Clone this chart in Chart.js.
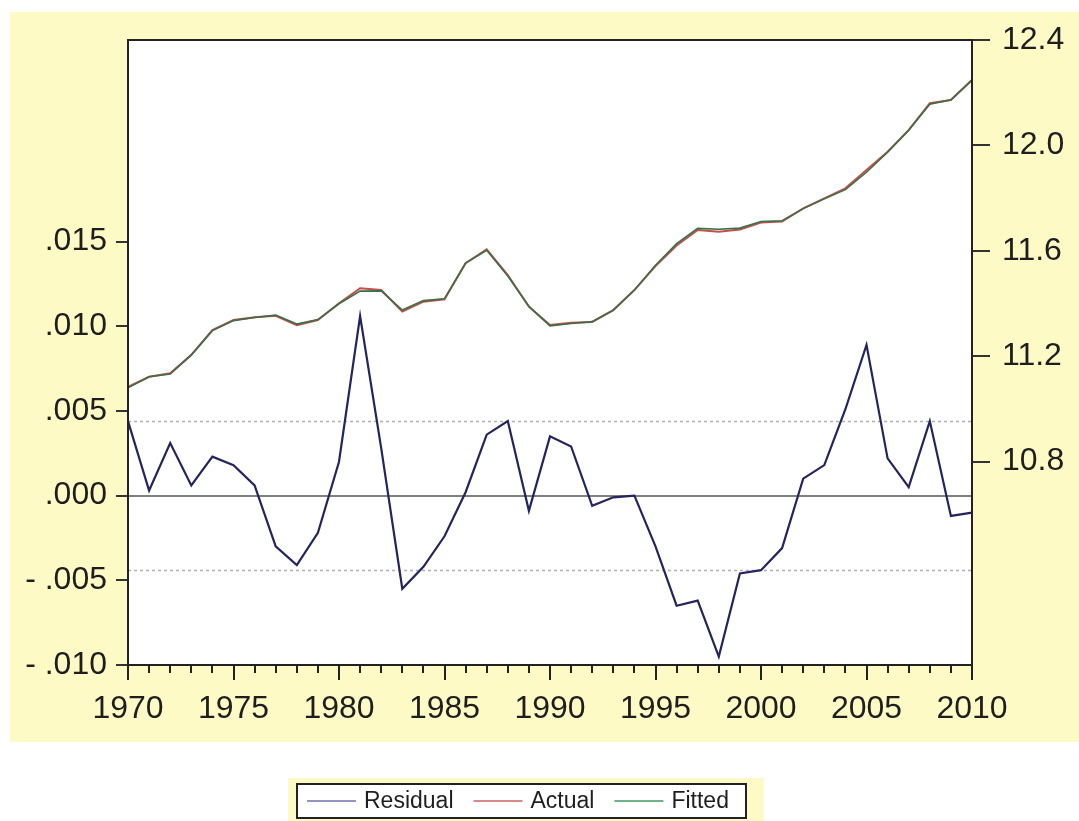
<!DOCTYPE html>
<html>
<head>
<meta charset="utf-8">
<script src="https://cdn.jsdelivr.net/npm/chart.js@4.4.1/dist/chart.umd.min.js"></script>
<style>
  html, body { margin: 0; padding: 0; background: #ffffff; }
  #wrap { width: 1079px; height: 821px; }
</style>
</head>
<body>
<div id="wrap"><canvas id="c" width="1079" height="821"></canvas></div>
<script>
const years = [1970,1971,1972,1973,1974,1975,1976,1977,1978,1979,
               1980,1981,1982,1983,1984,1985,1986,1987,1988,1989,
               1990,1991,1992,1993,1994,1995,1996,1997,1998,1999,
               2000,2001,2002,2003,2004,2005,2006,2007,2008,2009,2010];

const residual = [0.0044, 0.0003, 0.0031, 0.0006, 0.0023, 0.0018, 0.0006, -0.0030, -0.0041, -0.0022,
                  0.0020, 0.0106, 0.0028, -0.0055, -0.0042, -0.0024, 0.0002, 0.0036, 0.0044, -0.0009,
                  0.0035, 0.0029, -0.0006, -0.0001, 0.0000, -0.0030, -0.0065, -0.0062, -0.0095, -0.0046,
                  -0.0044, -0.0031, 0.0010, 0.0018, 0.0051, 0.0089, 0.0022, 0.0005, 0.0044, -0.0012, -0.0010];

const actual = [11.084, 11.122, 11.135, 11.205, 11.299, 11.337, 11.348, 11.353, 11.318, 11.337,
                11.401, 11.458, 11.451, 11.369, 11.407, 11.416, 11.553, 11.606, 11.508, 11.388,
                11.318, 11.327, 11.330, 11.375, 11.451, 11.542, 11.620, 11.679, 11.672, 11.681,
                11.707, 11.711, 11.761, 11.799, 11.837, 11.907, 11.976, 12.058, 12.160, 12.172, 12.248];

const fitted = [11.080, 11.122, 11.132, 11.204, 11.297, 11.335, 11.347, 11.356, 11.322, 11.339,
                11.399, 11.447, 11.448, 11.375, 11.411, 11.418, 11.553, 11.602, 11.504, 11.389,
                11.315, 11.324, 11.331, 11.375, 11.451, 11.545, 11.627, 11.685, 11.682, 11.686,
                11.711, 11.714, 11.760, 11.797, 11.832, 11.898, 11.974, 12.058, 12.156, 12.173, 12.249];

const xTickYears = [1970, 1975, 1980, 1985, 1990, 1995, 2000, 2005, 2010];
const leftTicks = [-0.010, -0.005, 0.000, 0.005, 0.010, 0.015];
const rightTicks = [10.8, 11.2, 11.6, 12.0, 12.4];
const seBands = [0.00441, -0.00441];   // ±1 S.E. dotted lines
const seriesNames = ['Residual', 'Actual', 'Fitted'];

const toPts = (arr) => years.map((yr, i) => ({ x: yr, y: arr[i] }));
const TXT = '#1e1e1e';
const tickFont = { family: 'Liberation Sans, Arial, sans-serif', size: 32 };

const framePlugin = {
  id: 'frame',
  beforeDraw(chart) {
    const ctx = chart.ctx, a = chart.chartArea;
    ctx.save();
    ctx.fillStyle = '#fdfac6';
    ctx.fillRect(10, 12, 1069, 730);
    ctx.fillStyle = '#ffffff';
    ctx.fillRect(a.left, a.top, a.right - a.left, a.bottom - a.top);
    ctx.restore();
  },
  beforeDatasetsDraw(chart) {
    const ctx = chart.ctx, a = chart.chartArea, ys = chart.scales.y;
    ctx.save();
    ctx.strokeStyle = '#b0b0b0';
    ctx.lineWidth = 1.5;
    ctx.setLineDash([3, 3]);
    seBands.forEach(v => {
      const py = Math.round(ys.getPixelForValue(v)) + 0.5;
      ctx.beginPath(); ctx.moveTo(a.left, py); ctx.lineTo(a.right, py); ctx.stroke();
    });
    ctx.setLineDash([]);
    ctx.strokeStyle = '#808080';
    ctx.lineWidth = 2;
    const z = Math.round(ys.getPixelForValue(0));
    ctx.beginPath(); ctx.moveTo(a.left, z); ctx.lineTo(a.right, z); ctx.stroke();
    ctx.restore();
  },
  afterDatasetsDraw(chart) {
    const ctx = chart.ctx, a = chart.chartArea, xs = chart.scales.x;
    ctx.save();
    ctx.strokeStyle = '#222222';
    ctx.lineWidth = 2;
    ctx.strokeRect(a.left, a.top, a.right - a.left, a.bottom - a.top);
    // x-axis tick marks (major every 5 years, minor every year)
    ctx.lineWidth = 2;
    years.forEach(yr => {
      const px = Math.round(xs.getPixelForValue(yr));
      const len = (yr % 5 === 0) ? 15 : 8;
      ctx.beginPath(); ctx.moveTo(px, a.bottom); ctx.lineTo(px, a.bottom + len); ctx.stroke();
    });
    ctx.restore();
  },
  afterDraw(chart) {
    const ctx = chart.ctx;
    ctx.save();
    ctx.fillStyle = '#fdfac6';
    ctx.fillRect(288, 778, 476, 43);
    ctx.fillStyle = '#ffffff';
    ctx.fillRect(297, 784, 449, 34);
    ctx.strokeStyle = '#222222';
    ctx.lineWidth = 2;
    ctx.strokeRect(297, 784, 449, 34);
    ctx.font = '23px Liberation Sans, Arial, sans-serif';
    ctx.textBaseline = 'middle';
    ctx.fillStyle = TXT;
    const legendColors = ['#7070b0', '#d06060', '#3f9a5f'];
    let x = 307;
    const cy = 801;
    seriesNames.forEach((name, i) => {
      ctx.strokeStyle = legendColors[i];
      ctx.lineWidth = 1.5;
      ctx.beginPath(); ctx.moveTo(x, cy); ctx.lineTo(x + 49, cy); ctx.stroke();
      x += 57;
      ctx.fillText(name, x, cy + 1);
      x += ctx.measureText(name).width + 20;
    });
    ctx.restore();
  }
};

new Chart(document.getElementById('c'), {
  type: 'line',
  data: {
    datasets: [
      { label: seriesNames[0], data: toPts(residual), yAxisID: 'y', borderColor: '#24245e', borderWidth: 2.2, pointRadius: 0, tension: 0, order: 0 },
      { label: seriesNames[1], data: toPts(actual), yAxisID: 'y2', borderColor: '#c0504a', borderWidth: 2, pointRadius: 0, tension: 0, order: 2 },
      { label: seriesNames[2], data: toPts(fitted), yAxisID: 'y2', borderColor: '#3c6e48', borderWidth: 1.6, pointRadius: 0, tension: 0, order: 1 }
    ]
  },
  options: {
    responsive: false,
    animation: false,
    layout: { padding: { top: 40, left: 0, right: 0, bottom: 0 } },
    plugins: { legend: { display: false }, tooltip: { enabled: false } },
    scales: {
      x: {
        type: 'linear', min: 1970, max: 2010,
        afterBuildTicks: s => { s.ticks = xTickYears.map(v => ({ value: v })); },
        afterFit: s => { s.height = 156; },
        grid: { display: false },
        border: { display: false },
        ticks: { callback: v => String(v), font: tickFont, color: TXT, padding: 17, maxRotation: 0, autoSkip: false }
      },
      y: {
        type: 'linear', position: 'left', min: -0.010, max: 0.0269,
        afterBuildTicks: s => { s.ticks = leftTicks.map(v => ({ value: v })); },
        afterFit: s => { s.width = 128; },
        grid: { drawOnChartArea: false, drawTicks: true, tickLength: 12, color: '#333333', lineWidth: 2 },
        border: { display: false },
        ticks: {
          font: tickFont, color: TXT, padding: 9,
          callback: v => {
            const s = Math.abs(v).toFixed(3).replace(/^0/, '');
            return v < -1e-9 ? '- ' + s : s;
          }
        }
      },
      y2: {
        type: 'linear', position: 'right', min: 10.028, max: 12.4,
        afterBuildTicks: s => { s.ticks = rightTicks.map(v => ({ value: v })); },
        afterFit: s => { s.width = 107; },
        grid: { drawOnChartArea: false, drawTicks: true, tickLength: 18, color: '#333333', lineWidth: 2 },
        border: { display: false },
        ticks: { font: tickFont, color: TXT, padding: 12, callback: v => Number(v).toFixed(1) }
      }
    }
  },
  plugins: [framePlugin]
});
</script>
</body>
</html>
